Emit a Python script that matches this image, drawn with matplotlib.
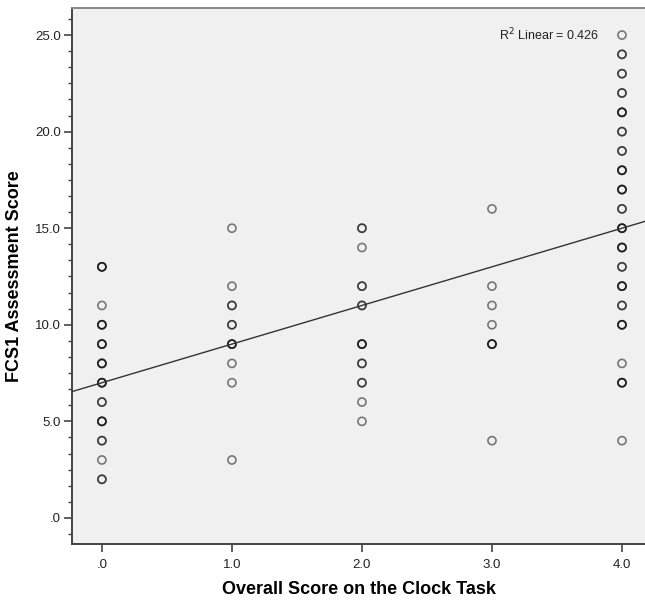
import matplotlib
matplotlib.use("Agg")
import matplotlib.pyplot as plt
from matplotlib.ticker import MultipleLocator, FuncFormatter
import numpy as np

# Data: (clock score, FCS1 score, approx. number of overlapping cases)
clock_scores = [0, 1, 2, 3, 4]
fcs_values = {
    0: [13, 11, 10, 9, 8, 7, 6, 5, 4, 3, 2],
    1: [15, 12, 11, 10, 9, 8, 7, 3],
    2: [15, 14, 12, 11, 9, 8, 7, 6, 5],
    3: [16, 12, 11, 10, 9, 4],
    4: [25, 24, 23, 22, 21, 20, 19, 18, 17, 16, 15, 14, 13, 12, 11, 10, 8, 7, 4],
}
fcs_counts = {
    0: [3, 1, 3, 3, 3, 3, 2, 3, 2, 1, 2],
    1: [1, 1, 2, 2, 3, 1, 1, 1],
    2: [2, 1, 2, 2, 3, 2, 2, 1, 1],
    3: [1, 1, 1, 1, 3, 1],
    4: [1, 2, 2, 2, 3, 2, 2, 3, 3, 2, 3, 3, 2, 3, 2, 3, 1, 3, 1],
}
fit_intercept = 7.0
fit_slope = 2.0
r2_text = "R$^2$ Linear = 0.426"
x_label = "Overall Score on the Clock Task"
y_label = "FCS1 Assessment Score"

plt.rcParams['font.family'] = ['Liberation Sans', 'DejaVu Sans']

fig = plt.figure(figsize=(6.45, 6.0), dpi=100)
ax = fig.add_axes([72/645, 1 - 544/600, 1 - 72/645, (544 - 8)/600])
ax.set_facecolor('#F0F0F0')

xs, ys = [], []
for x in clock_scores:
    for v, c in zip(fcs_values[x], fcs_counts[x]):
        for _ in range(c):
            xs.append(x)
            ys.append(v)
ax.scatter(xs, ys, s=34, facecolors='none', edgecolors='black',
           linewidths=1.2, alpha=0.5, zorder=3)

xlim = (-0.23, 4.177)
ax.set_xlim(*xlim)
ax.set_ylim(-1.35, 26.4)
lx = np.array(xlim)
ax.plot(lx, fit_intercept + fit_slope * lx, color='#333333', lw=1.0, zorder=4)

ax.text(0.921, 0.95, r2_text, transform=ax.transAxes, ha='right', va='center',
        fontsize=9, color='#222222')

ax.xaxis.set_major_locator(MultipleLocator(1))
ax.yaxis.set_major_locator(MultipleLocator(5))
ax.yaxis.set_minor_locator(MultipleLocator(5/6))

def fmt(v, pos):
    s = f"{v:.1f}"
    if s.startswith("0."):
        s = s[1:]
    if s.startswith("-0."):
        s = "-" + s[2:]
    return s

ax.xaxis.set_major_formatter(FuncFormatter(fmt))
ax.yaxis.set_major_formatter(FuncFormatter(fmt))

for sp in ['left', 'bottom']:
    ax.spines[sp].set_color('#444444')
    ax.spines[sp].set_linewidth(1.4)
ax.spines['top'].set_color('#8a8a8a')
ax.spines['top'].set_linewidth(1.4)
ax.spines['right'].set_visible(False)

ax.tick_params(axis='both', which='major', direction='out', length=6, width=1.2,
               color='#444444', labelsize=9.5, labelcolor='#222222', pad=2)
ax.tick_params(axis='y', which='minor', direction='out', length=3, width=1.0,
               color='#444444')
ax.tick_params(axis='x', which='major', pad=5)

ax.set_xlabel(x_label, fontsize=13, fontweight='bold', labelpad=7)
ax.set_ylabel(y_label, fontsize=13, fontweight='bold', labelpad=9)

fig.savefig("out.png", dpi=100)
